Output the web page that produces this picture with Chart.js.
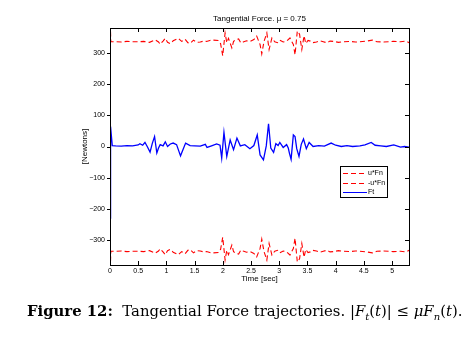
<!DOCTYPE html>
<html>
<head>
<meta charset="utf-8">
<script src="https://cdn.jsdelivr.net/npm/chart.js@4/dist/chart.umd.min.js"></script>
<style>
  html, body { margin: 0; padding: 0; background: #fff; }
  #wrap { position: relative; width: 474px; height: 337px; }
  #caption {
    position: absolute; left: 27px; top: 303px; white-space: nowrap;
    font-family: "DejaVu Serif", "Liberation Serif", serif; font-size: 14.85px; line-height: 16px; color: #000;
  }
  #caption sub { font-size: 10px; line-height: 0; }
</style>
</head>
<body>
<div id="wrap">
  <canvas id="forceChart" width="474" height="337"></canvas>
  <div id="caption"><b>Figure 12:</b>&nbsp; Tangential Force trajectories. |<i>F</i><sub><i>t</i></sub>(<i>t</i>)| &le; <i>&mu;F</i><sub><i>n</i></sub>(<i>t</i>).</div>
</div>
<script>
// valores
var fnTime = [0, 0.015, 0.1, 0.2, 0.3, 0.4, 0.5, 0.6, 0.7, 0.8, 0.86, 0.89, 0.94, 0.98, 1.02, 1.07, 1.12, 1.21, 1.27, 1.33,
  1.38, 1.42, 1.48, 1.54, 1.6, 1.66, 1.71, 1.77, 1.83, 1.92, 1.96, 1.998, 2.04, 2.07, 2.1, 2.16, 2.19, 2.24, 2.28, 2.32,
  2.36, 2.42, 2.48, 2.55, 2.6, 2.66, 2.69, 2.73, 2.78, 2.82, 2.87, 2.92, 2.97, 3.01, 3.07, 3.13, 3.19, 3.25, 3.28, 3.32,
  3.36, 3.4, 3.44, 3.47, 3.51, 3.55, 3.6, 3.66, 3.72, 3.78, 3.84, 3.9, 3.96, 4.05, 4.14, 4.25, 4.35, 4.43, 4.55, 4.65,
  4.73, 4.85, 5.02, 5.15, 5.25, 5.3];
var muFn = [420, 336, 336, 335, 337, 336, 336, 337, 334, 342, 335, 328, 338, 347, 334, 330, 339, 347, 337, 344,
  333, 331, 341, 334, 335, 338, 337, 340, 341, 340, 330, 291, 364, 333, 347, 316, 337, 343, 345, 332,
  335, 339, 337, 343, 354, 327, 297, 337, 364, 311, 348, 336, 333, 341, 335, 338, 348, 327, 294, 370,
  360, 311, 355, 330, 340, 338, 333, 335, 339, 336, 333, 338, 337, 334, 336, 337, 335, 336, 338, 341,
  336, 335, 337, 336, 338, 333];
var negMuFn = muFn.map(function (v) { return -v; });

var ftTime = [0, 0.01, 0.04, 0.1, 0.2, 0.3, 0.4, 0.5, 0.53, 0.58, 0.62, 0.66, 0.71, 0.75, 0.79, 0.83, 0.86, 0.89, 0.94, 0.98,
  1.02, 1.07, 1.12, 1.18, 1.25, 1.34, 1.42, 1.5, 1.6, 1.69, 1.72, 1.8, 1.89, 1.95, 1.98, 2.02, 2.07, 2.13, 2.19, 2.25,
  2.31, 2.39, 2.48, 2.55, 2.61, 2.66, 2.72, 2.77, 2.81, 2.85, 2.9, 2.94, 2.98, 3.01, 3.07, 3.13, 3.16, 3.18, 3.21, 3.25,
  3.28, 3.31, 3.35, 3.39, 3.43, 3.48, 3.53, 3.6, 3.7, 3.8, 3.92, 4.0, 4.1, 4.2, 4.3, 4.43, 4.52, 4.63, 4.7, 4.8,
  4.9, 5.03, 5.15, 5.22, 5.3];
var ft = [-230, 64, 3, 2, 1, 3, 2, 5, 9, 4, 13, 0, -18, 10, 32, -21, -5, 6, 2, 15,
  0, 8, 11, 6, -30, 11, 3, 2, 1, 7, -3, 2, 8, 4, -37, 45, -32, 21, -10, 27,
  2, 6, -7, 3, 37, -27, -43, 2, 73, -5, -19, 9, 3, 13, -3, 6, -5, -21, -41, 37,
  32, -7, -32, 7, 24, -7, 13, 0, 3, 1, 11, 4, 0, 3, 0, 2, 5, 13, 4, 2,
  0, 5, -2, 0, -2];

var xTicksStep = 0.5;
var yTicksStep = 100;

function pares(tiempos, valores) {
    var out = [];
    for (var i = 0; i < tiempos.length; i++) {
        out.push({ x: tiempos[i], y: valores[i] });
    }
    return out;
}

// marco estilo matlab: caja, marcas hacia adentro y leyenda
var marco = {
    id: 'marco',
    afterDatasetsDraw: function (chart) {
        var ctx = chart.ctx;
        var a = chart.chartArea;
        var sx = chart.scales.x, sy = chart.scales.y;
        ctx.save();
        ctx.strokeStyle = '#000';
        ctx.lineWidth = 1;
        ctx.strokeRect(Math.round(a.left) + 0.5, Math.round(a.top) + 0.5,
            Math.round(a.right - a.left), Math.round(a.bottom - a.top));
        ctx.beginPath();
        sx.ticks.forEach(function (t) {
            var px = Math.round(sx.getPixelForValue(t.value)) + 0.5;
            ctx.moveTo(px, a.bottom); ctx.lineTo(px, a.bottom - 4);
            ctx.moveTo(px, a.top); ctx.lineTo(px, a.top + 4);
        });
        sy.ticks.forEach(function (t) {
            var py = Math.round(sy.getPixelForValue(t.value)) + 0.5;
            ctx.moveTo(a.left - 3, py); ctx.lineTo(a.left, py);
            ctx.moveTo(a.right, py); ctx.lineTo(a.right - 4, py);
        });
        ctx.stroke();

        // leyenda
        var lx = 340.5, ly = 166.5, lw = 47, lh = 31;
        ctx.fillStyle = '#fff';
        ctx.fillRect(lx, ly, lw, lh);
        ctx.strokeRect(lx, ly, lw, lh);
        var filas = [173, 183, 192];
        ctx.font = '7px "Liberation Sans", Arial, sans-serif';
        ctx.textBaseline = 'middle';
        chart.data.datasets.forEach(function (ds, i) {
            ctx.beginPath();
            ctx.strokeStyle = ds.borderColor;
            ctx.lineWidth = 1;
            ctx.setLineDash(ds.borderDash || []);
            ctx.moveTo(343, filas[i] + 0.5);
            ctx.lineTo(367, filas[i] + 0.5);
            ctx.stroke();
            ctx.setLineDash([]);
            ctx.fillStyle = '#000';
            ctx.fillText(ds.label, 368, filas[i] + 0.5);
        });
        ctx.restore();
    }
};

var fuente = '"Liberation Sans", Arial, sans-serif';
var ctxChart = document.getElementById('forceChart');
var config = {
    type: 'line',
    data: {
        datasets: [{
            label: 'u*Fn',
            data: pares(fnTime, muFn),
            borderColor: '#ff0000',
            borderWidth: 1.1,
            borderDash: [5, 3]
        }, {
            label: '-u*Fn',
            data: pares(fnTime, negMuFn),
            borderColor: '#ff0000',
            borderWidth: 1.1,
            borderDash: [5, 3]
        }, {
            label: 'Ft',
            data: pares(ftTime, ft),
            borderColor: '#0000ff',
            borderWidth: 1.3
        }]
    },
    options: {
        responsive: false,
        animation: false,
        devicePixelRatio: 1,
        elements: { point: { radius: 0 }, line: { tension: 0 } },
        layout: { padding: { left: 78, right: 65, top: 0, bottom: 52 } },
        plugins: {
            legend: { display: false },
            tooltip: { enabled: false },
            title: {
                display: true,
                fullSize: false,
                text: 'Tangential Force. \u03bc = 0.75',
                color: '#000',
                font: { family: fuente, size: 8, weight: 'normal' },
                padding: { top: 14.2, bottom: 4.2 }
            }
        },
        scales: {
            x: {
                type: 'linear',
                min: 0,
                max: 5.3,
                grid: { display: false, drawTicks: false },
                border: { display: false },
                ticks: {
                    stepSize: xTicksStep, includeBounds: false, autoSkip: false, maxRotation: 0,
                    color: '#000', padding: 2, font: { family: fuente, size: 7 },
                    callback: function (v) { return String(Math.round(v * 10) / 10); }
                },
                title: {
                    display: true, text: 'Time [sec]', color: '#000',
                    font: { family: fuente, size: 8 }, padding: { top: 0, bottom: 1.2 }
                },
                afterFit: function (s) { s.height = 20; }
            },
            y: {
                type: 'linear',
                min: -380,
                max: 380,
                grid: { display: false, drawTicks: false },
                border: { display: false },
                ticks: {
                    stepSize: yTicksStep, includeBounds: false, color: '#000', padding: 5,
                    font: { family: fuente, size: 7 },
                    callback: function (v) { return String(v).replace('-', '\u2212'); }
                },
                title: {
                    display: true, text: '[Newtons]', color: '#000',
                    font: { family: fuente, size: 8 }, padding: { top: 2, bottom: 0 }
                },
                afterFit: function (s) { s.width = 32; }
            }
        }
    },
    plugins: [marco]
};
window.myChart = new Chart(ctxChart, config);
</script>
</body>
</html>
